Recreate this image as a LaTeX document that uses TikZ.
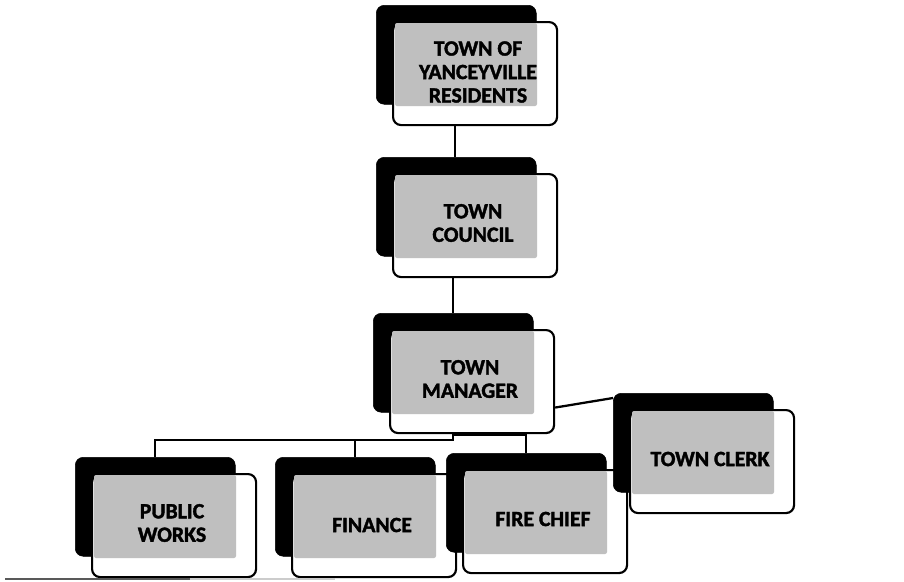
\documentclass[tikz,border=0pt]{standalone}
\usepackage{fontspec}
\setmainfont{Carlito}
\newfontfamily\orgfont[BoldFeatures={FakeBold=1.8}]{Carlito}
\usetikzlibrary{calc}
\pgfdeclarelayer{back}
\pgfdeclarelayer{bg}
\pgfsetlayers{back,bg,main}
\tikzset{
  backbox/.style={fill=black, draw=black, rounded corners=6pt, inner sep=0pt,
    anchor=north west, minimum width=120pt, minimum height=74.25pt},
  frontbox/.style={fill=white, draw=black, line width=1.6pt, rounded corners=6pt, inner sep=0pt,
    anchor=north west, minimum width=123pt, minimum height=77.25pt},
  shadefill/.style={fill=black!25, rounded corners=1.5pt},
  lbl/.style={align=center, inner sep=0pt, text=black,
    font=\orgfont\fontsize{16.3}{17.6}\selectfont\bfseries},
  conn/.style={draw=black, line width=1.7pt},
  artifact/.style={line width=1.5pt}
}
\newcommand\orgunit[6]{%
  \begin{scope}[shift={(#2,#3)}]
    \node[backbox] (#1B) at (0,0) {};
    \node[frontbox] (#1) at (16,16) {};
    \fill[shadefill] (19,18) rectangle (161,101);
    \node[lbl] (#1T) at (#5,#6) {#4};
  \end{scope}}
\begin{document}
\begin{tikzpicture}[x=0.75pt, y=-0.75pt]
  \useasboundingbox (0,0) rectangle (904,582);
  \begin{pgfonlayer}{back}
    \fill[white] (0,0) rectangle (904,582);
  \end{pgfonlayer}
  \orgunit{res}{376}{5}{TOWN OF\\YANCEYVILLE\\RESIDENTS}{102}{67}
  \orgunit{coun}{376}{157}{TOWN\\COUNCIL}{97}{66}
  \orgunit{mgr}{373}{313}{TOWN\\MANAGER}{97}{66}
  \orgunit{pw}{75}{457}{PUBLIC\\WORKS}{97}{66}
  \orgunit{fin}{275}{457}{FINANCE}{97}{68}
  \orgunit{fire}{446}{453}{FIRE CHIEF}{97}{66}
  \orgunit{clerk}{613}{393}{TOWN CLERK}{97}{66}
  \begin{pgfonlayer}{bg}
    \coordinate (a1) at (455,0);
    \coordinate (a2) at (453,0);
    \coordinate (j) at (453,440);
    \coordinate (j2) at (453,435);
    \draw[conn] (res.south -| a1) -- (counB.north -| a1);
    \draw[conn] (coun.south -| a2) -- (mgrB.north -| a2);
    \draw[conn] (mgr.south -| j) -- (j) -| (pwB.north);
    \draw[conn] (j -| finB.north) -- (finB.north);
    \draw[conn] (j2) -| (fireB.north);
    \draw[conn] ($(mgr.east)+(0,26)$) -- ($(clerkB.north west)+(0,5)$);
  \end{pgfonlayer}
  \draw[artifact, black!65] (5,579) -- (190,579);
  \draw[artifact, black!20] (190,579) -- (335,579);
\end{tikzpicture}
\end{document}
